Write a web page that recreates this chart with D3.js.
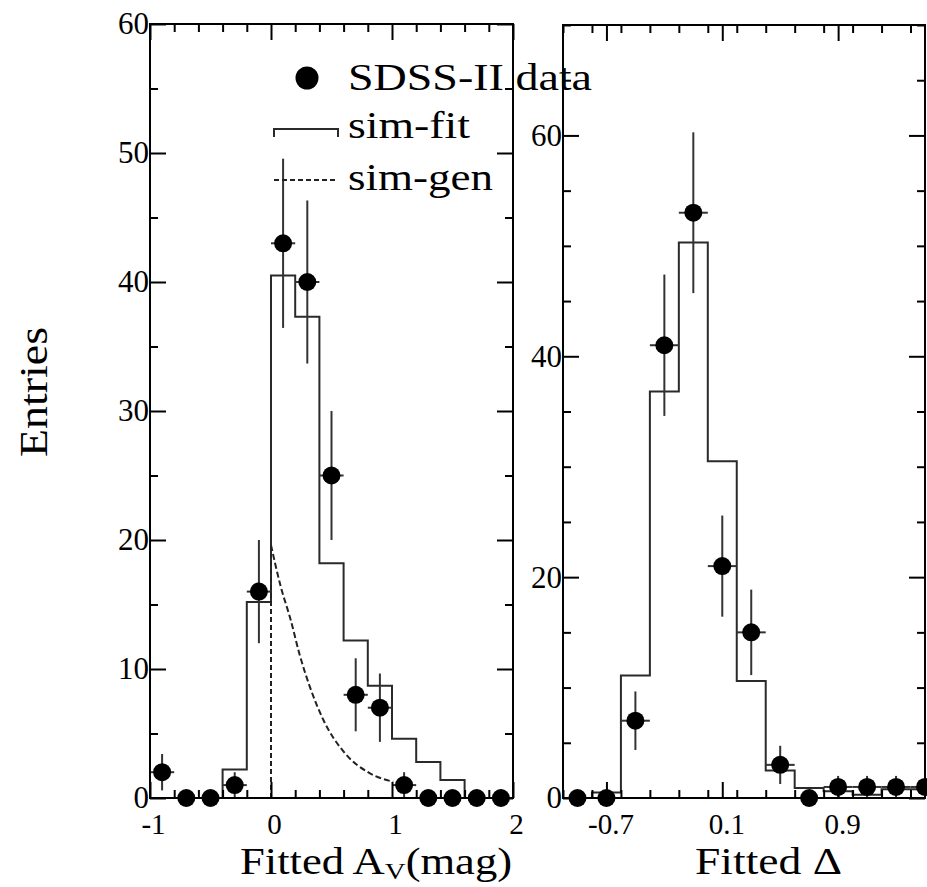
<!DOCTYPE html>
<html><head><meta charset="utf-8">
<script src="https://cdn.jsdelivr.net/npm/d3@7"></script>
<style>body{margin:0;background:#fff}svg{display:block}</style>
</head><body>
<script>
// ---- Fitted A_V panel ----
const avCenters = [-0.9,-0.7,-0.5,-0.3,-0.1,0.1,0.3,0.5,0.7,0.9,1.1,1.3,1.5,1.7,1.9];
const avData    = [2,0,0,1,16,43,40,25,8,7,1,0,0,0,0];
const avErr     = [1.41,0,0,1,4,6.56,6.32,5,2.83,2.65,1,0,0,0,0];
const avSimFit  = [0,0,0,2.2,15.2,40.5,37.3,18.2,12.2,8.7,4.6,2.8,1.4,0,0];
const avSimGenX = [0,0.08,0.163,0.234,0.322,0.433,0.612,0.818,1.01];
const avSimGenY = [19.6,16.4,13.8,11.2,8.6,6.05,3.46,1.91,1.26];
const avXLabels = [-1,0,1,2];
const avYLabels = [0,10,20,30,40,50,60];

// ---- Fitted Delta panel ----
const dCenters = [-0.9,-0.7,-0.5,-0.3,-0.1,0.1,0.3,0.5,0.7,0.9,1.1,1.3,1.5];
const dData    = [0,0,7,41,53,21,15,3,0,1,1,1,1];
const dErr     = [0,0,2.65,6.4,7.28,4.58,3.87,1.73,0,1,1,1,1];
const dSimFit  = [0,0.5,11.1,36.8,50.3,30.5,10.6,2.5,0.9,0.6,0.3,0.8,0.8];
const dXLabels = [-0.7,0.1,0.9];
const dYLabels = [0,20,40,60];

const binWidth = 0.2;
const FONT = "'Liberation Serif','Times New Roman',serif";

const W = 927, H = 887;
const svg = d3.select("body").append("svg").attr("width", W).attr("height", H)
  .style("font-family", FONT);

function panel(id, x, y, cfg) {
  const [x0, x1] = x.range(), [y0, y1] = y.range();
  const g = svg.append("g");
  svg.append("clipPath").attr("id", id).append("rect")
    .attr("x", x0).attr("y", y1).attr("width", x1 - x0).attr("height", y0 - y1);
  const plot = g.append("g").attr("clip-path", `url(#${id})`);

  // simulated (fit) histogram as steps
  const pts = [[cfg.centers[0] - binWidth / 2, 0]];
  cfg.centers.forEach((c, i) => {
    pts.push([c - binWidth / 2, cfg.sim[i]], [c + binWidth / 2, cfg.sim[i]]);
  });
  pts.push([cfg.centers[cfg.centers.length - 1] + binWidth / 2, 0]);
  plot.append("path").attr("d", d3.line().x(d => x(d[0])).y(d => y(d[1]))(pts))
    .attr("fill", "none").attr("stroke", "#2a2a2a").attr("stroke-width", 2);

  if (cfg.genX) {
    plot.append("line").attr("x1", x(cfg.genX[0])).attr("x2", x(cfg.genX[0]))
      .attr("y1", y(0)).attr("y2", y(cfg.genY[0]))
      .attr("stroke", "#222").attr("stroke-width", 2).attr("stroke-dasharray", "5,3");
    const gen = cfg.genX.map((v, i) => [v, cfg.genY[i]]);
    plot.append("path")
      .attr("d", d3.line().x(d => x(d[0])).y(d => y(d[1])).curve(d3.curveMonotoneX)(gen))
      .attr("fill", "none").attr("stroke", "#222").attr("stroke-width", 2)
      .attr("stroke-dasharray", "6,3");
  }

  // data points with error bars
  const eb = g.append("g").attr("stroke", "#333").attr("stroke-width", 2);
  cfg.centers.forEach((c, i) => {
    const v = cfg.data[i], e = cfg.err[i];
    eb.append("line").attr("x1", x(c - binWidth / 2)).attr("x2", x(c + binWidth / 2))
      .attr("y1", y(v)).attr("y2", y(v));
    if (e > 0) eb.append("line").attr("x1", x(c)).attr("x2", x(c))
      .attr("y1", y(v - e)).attr("y2", y(v + e));
  });
  g.append("g").selectAll("circle").data(cfg.centers).join("circle")
    .attr("cx", d => x(d)).attr("cy", (d, i) => y(cfg.data[i])).attr("r", 9)
    .attr("fill", "#000");

  // frame
  g.append("rect").attr("x", x0).attr("y", y1).attr("width", x1 - x0).attr("height", y0 - y1)
    .attr("fill", "none").attr("stroke", "#000").attr("stroke-width", 2);

  // axes: ticks point inward on all four sides
  const styleAxis = sel => {
    sel.select(".domain").remove();
    sel.selectAll("line").attr("stroke", "#000").attr("stroke-width", 2);
    sel.attr("font-family", FONT).attr("font-size", 29).selectAll("text").attr("fill", "#000");
  };
  const xMinor = d3.range(x.domain()[0], x.domain()[1] + 1e-9, binWidth)
    .filter(v => !cfg.xMajor.some(m => Math.abs(m - v) < 1e-6));
  const yMinor = d3.range(0, y.domain()[1] + 1e-9, 5)
    .filter(v => !cfg.yMajor.some(m => Math.abs(m - v) < 1e-6));

  [[d3.axisBottom, y0, true], [d3.axisTop, y1, false]].forEach(([ax, ty, lab]) => {
    g.append("g").attr("transform", `translate(0,${ty})`)
      .call(ax(x).tickValues(cfg.xMajor).tickSize(-16).tickSizeOuter(0).tickPadding(15)
        .tickFormat(lab ? (d => String(d)) : () => "")).call(styleAxis)
      .selectAll("text").attr("dx", cfg.xLabelShift || 0);
    g.append("g").attr("transform", `translate(0,${ty})`)
      .call(ax(x).tickValues(xMinor).tickSize(-8).tickSizeOuter(0).tickFormat(() => ""))
      .call(styleAxis);
  });
  [[d3.axisLeft, x0, true], [d3.axisRight, x1, false]].forEach(([ax, tx, lab]) => {
    g.append("g").attr("transform", `translate(${tx},0)`)
      .call(ax(y).tickValues(cfg.yMajor).tickSize(-16).tickSizeOuter(0).tickPadding(1)
        .tickFormat(lab ? (d => String(d)) : () => "")).call(styleAxis)
      .selectAll("text").attr("font-size", 31);
    g.append("g").attr("transform", `translate(${tx},0)`)
      .call(ax(y).tickValues(yMinor).tickSize(-8).tickSizeOuter(0).tickFormat(() => ""))
      .call(styleAxis);
  });
  return g;
}

const xAv = d3.scaleLinear().domain([-1, 2]).range([150, 513]);
const yAv = d3.scaleLinear().domain([0, 60]).range([798, 24]);
const xD  = d3.scaleLinear().domain([-1, 1.5]).range([563, 925]);
const yD  = d3.scaleLinear().domain([0, 70]).range([798, 25]);

panel("clipAv", xAv, yAv, {
  centers: avCenters, data: avData, err: avErr, sim: avSimFit,
  genX: avSimGenX, genY: avSimGenY, xMajor: avXLabels, yMajor: avYLabels, xLabelShift: 3
});
panel("clipD", xD, yD, {
  centers: dCenters, data: dData, err: dErr, sim: dSimFit,
  xMajor: dXLabels, yMajor: dYLabels, xLabelShift: 4
});

// axis titles
svg.append("text").attr("x", 240).attr("y", 874).attr("font-size", 37)
  .attr("textLength", 272).attr("lengthAdjust", "spacingAndGlyphs")
  .call(t => {
    t.append("tspan").text("Fitted A");
    t.append("tspan").attr("font-size", 24).attr("baseline-shift", "-22%").text("V");
    t.append("tspan").text("(mag)");
  });
svg.append("text").attr("x", 695).attr("y", 874).attr("font-size", 37)
  .attr("textLength", 147).attr("lengthAdjust", "spacingAndGlyphs").text("Fitted Δ");
svg.append("text").attr("transform", "translate(47,392) rotate(-90)")
  .attr("text-anchor", "middle").attr("font-size", 40)
  .attr("textLength", 130).attr("lengthAdjust", "spacingAndGlyphs").text("Entries");

// legend
const leg = svg.append("g");
leg.append("circle").attr("cx", 307).attr("cy", 78).attr("r", 11.5).attr("fill", "#000");
leg.append("path").attr("d", "M274,137V129H338V137").attr("fill", "none")
  .attr("stroke", "#2a2a2a").attr("stroke-width", 2);
leg.append("line").attr("x1", 274).attr("x2", 338).attr("y1", 180).attr("y2", 180)
  .attr("stroke", "#222").attr("stroke-width", 2).attr("stroke-dasharray", "5,3");
[["SDSS-II data", 90, 244], ["sim-fit", 138, 122], ["sim-gen", 190, 145]].forEach(([t, by, w]) => {
  leg.append("text").attr("x", 348).attr("y", by).attr("font-size", 37)
    .attr("textLength", w).attr("lengthAdjust", "spacingAndGlyphs").text(t);
});
</script>
</body></html>
